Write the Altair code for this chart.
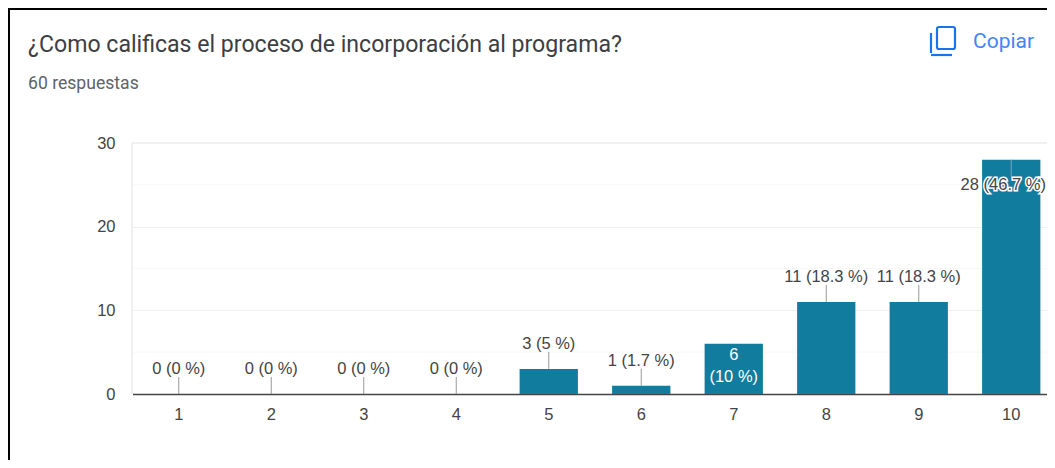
import altair as alt
import pandas as pd

categories = ["1", "2", "3", "4", "5", "6", "7", "8", "9", "10"]
counts = [0, 0, 0, 0, 3, 1, 6, 11, 11, 28]
labels = ["0 (0 %)", "0 (0 %)", "0 (0 %)", "0 (0 %)", "3 (5 %)", "1 (1.7 %)", "6\n(10 %)",
          "11 (18.3 %)", "11 (18.3 %)", "28 (46.7 %)"]
major_ticks = [0, 10, 20, 30]
minor_ticks = [5, 15, 25]

BAR = "#127c9e"
LEFT, TOP = 124, 135
W, H = 915, 251
FS = 16.5

df = pd.DataFrame({"cat": categories, "v": counts, "label": labels})

xscale = alt.Scale(domain=categories, range=[0.5, 925.5], paddingInner=0.37, paddingOuter=0.185)
yscale = alt.Scale(domain=[0, 30], nice=False)
xaxis = alt.Axis(title=None, labelAngle=0, labelFont="Liberation Sans", labelFontSize=FS,
                 labelColor="#444444", labelPadding=12, ticks=False, grid=False,
                 domainColor="#444444", domainWidth=1.5)
yaxis = alt.Axis(title=None, values=major_ticks, labelFont="Liberation Sans", labelFontSize=FS,
                 labelColor="#444444", labelPadding=17, ticks=False, domain=False,
                 grid=True, gridColor="#f0f0f0", gridWidth=1)
X = alt.X("cat:N", scale=xscale, sort=categories, axis=xaxis)
Y = alt.Y("v:Q", scale=yscale, axis=yaxis)

base = alt.Chart(df)
bars = base.mark_bar(color=BAR).encode(x=X, y=Y)

minor = alt.Chart(pd.DataFrame({"v": minor_ticks})).mark_rule(color="#f7f7f7", strokeWidth=1).encode(
    y=Y, x=alt.value(0), x2=alt.value(W))
top_grid = alt.Chart(pd.DataFrame({"v": [30]})).mark_rule(color="#f0f0f0", strokeWidth=2).encode(
    y=Y, x=alt.value(0), x2=alt.value(W))
left_grid = base.mark_rule(color="#f0f0f0", strokeWidth=2).encode(x=alt.value(0), y=alt.value(0), y2=alt.value(H))

outside = base.transform_filter("datum.v != 6 && datum.v != 28")
leaders = outside.mark_rule(color="#999999", strokeWidth=1, y2Offset=-17).encode(x=X, y=Y, y2=alt.Y2("v:Q"))
zero_marks = base.transform_filter("datum.v == 0").mark_bar(color="#dfe5e8", height=1, yOffset=-1).encode(x=X, y=Y)
text_common = dict(font="Liberation Sans", fontSize=FS)
outside_text = outside.mark_text(color="#444444", dy=-25, **text_common).encode(x=X, y=Y, text="label:N")
inside_text = base.transform_filter("datum.v == 6").mark_text(
    color="#ffffff", lineBreak="\n", lineHeight=22, dy=11, **text_common).encode(
    x=X, y=Y, text="label:N")

big = base.transform_filter("datum.v == 28")
big_leader = big.mark_rule(color="#999999", strokeWidth=1, y2Offset=17).encode(x=X, y=Y, y2=alt.Y2("v:Q"))
big_halo = big.mark_text(color="#ffffff", stroke="#ffffff", strokeWidth=3, dy=25, dx=-8, **text_common).encode(
    x=X, y=Y, text="label:N")
big_text = big.mark_text(color="#444444", dy=25, dx=-8, **text_common).encode(x=X, y=Y, text="label:N")


def ax(px):
    return alt.value(px - 8 - LEFT)


def ay(py):
    return alt.value(py - 8 - TOP)


one = alt.Chart(pd.DataFrame({"a": [0]}))


def page_text(txt, x, y, size, color):
    return one.mark_text(text=txt, align="left", baseline="alphabetic", font="Roboto",
                         fontSize=size, color=color).encode(x=ax(x), y=ay(y))


def page_line(x1, y1, x2, y2, color, width):
    return one.mark_rule(color=color, strokeWidth=width).encode(x=ax(x1), x2=ax(x2), y=ay(y1), y2=ay(y2))


title = page_text("¿Como calificas el proceso de incorporación al programa?", 28, 52, 23.1, "#3c4043")
subtitle = page_text("60 respuestas", 28, 89, 17.6, "#5f6368")
copy_label = page_text("Copiar", 973, 48, 21, "#4285f4")

icon_front = one.mark_rect(fillOpacity=0, stroke="#1a73e8", strokeWidth=2.2, cornerRadius=2).encode(
    x=ax(937), x2=ax(955), y=ay(27), y2=ay(49))
icon_left = page_line(931, 33, 931, 53, "#1a73e8", 2.2)
icon_bottom = page_line(931, 55, 952, 55, "#1a73e8", 2.2)

border_top = page_line(8, 9, 1047, 9, "#000000", 2)
border_left = page_line(9, 8, 9, 460, "#000000", 2)

chart = alt.layer(
    minor, left_grid, top_grid, bars, zero_marks, leaders, outside_text, inside_text,
    big_leader, big_halo, big_text,
    title, subtitle, copy_label, icon_front, icon_left, icon_bottom, border_top, border_left,
).resolve_scale(x="shared", y="shared").properties(
    width=W, height=H,
    autosize=alt.AutoSizeParams(type="none"),
    padding={"left": LEFT, "top": TOP, "right": 0, "bottom": 66},
).configure_view(stroke=None)

chart.save("out.html", embed_options={"renderer": "svg", "actions": False})
